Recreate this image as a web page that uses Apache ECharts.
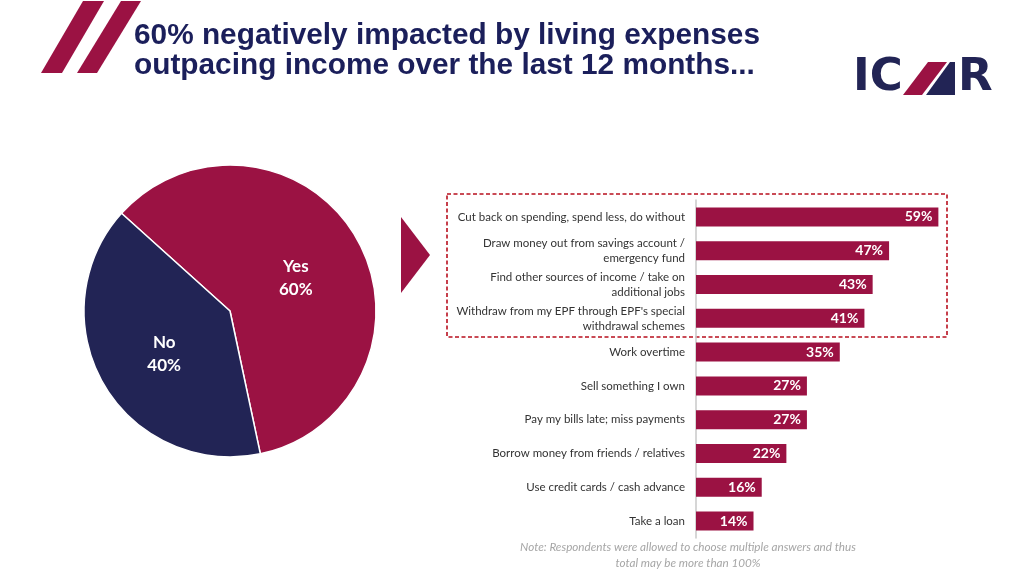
<!DOCTYPE html>
<html lang="en">
<head>
    <meta charset="UTF-8">
    <title>Living expenses</title>
    <script src="https://cdn.jsdelivr.net/npm/echarts@6/dist/echarts.min.js"></script>
    <style>
        html, body { margin: 0; padding: 0; background: #fff; }
        #main { width: 1024px; height: 576px; }
    </style>
</head>
<body>
<div id="main"></div>
<script type="text/javascript">
    // pie: negatively impacted?
    var pieNames = ['Yes', 'No'];
    var pieValues = [60, 40];

    // bars: actions taken (top to bottom)
    var actions = [
        'Cut back on spending, spend less, do without',
        'Draw money out from savings account /\nemergency fund',
        'Find other sources of income / take on\nadditional jobs',
        'Withdraw from my EPF through EPF\'s special\nwithdrawal schemes',
        'Work overtime',
        'Sell something I own',
        'Pay my bills late; miss payments',
        'Borrow money from friends / relatives',
        'Use credit cards / cash advance',
        'Take a loan'
    ];
    var actionValues = [59, 47, 43, 41, 35, 27, 27, 22, 16, 14];

    var crimson = '#9b1243';
    var navy = '#222455';
    var titleNavy = '#1b1f5b';

    var chart = echarts.init(document.getElementById('main'));

    var option = {
        backgroundColor: '#ffffff',
        animation: false,
        textStyle: { fontFamily: 'Lato' },
        grid: { left: 696, right: 24, top: 200, bottom: 38 },
        xAxis: {
            type: 'value',
            min: 0,
            max: 74,
            show: false
        },
        yAxis: {
            type: 'category',
            inverse: true,
            data: actions,
            axisTick: { show: false },
            axisLine: { show: true, lineStyle: { color: '#c8c8c8', width: 1.5 } },
            axisLabel: {
                margin: 11,
                color: '#333333',
                fontSize: 11.5,
                fontFamily: 'Lato',
                lineHeight: 15,
                align: 'right'
            }
        },
        series: [
            {
                type: 'pie',
                center: [230, 311],
                radius: 146,
                startAngle: 138,
                clockwise: true,
                avoidLabelOverlap: false,
                emphasis: { disabled: true },
                itemStyle: { borderColor: '#ffffff', borderWidth: 1.5 },
                label: {
                    position: 'inside',
                    offset: [0, 5],
                    color: '#ffffff',
                    fontFamily: 'Lato',
                    fontWeight: 'bold',
                    fontSize: 17,
                    lineHeight: 23,
                    formatter: function (p) {
                        return p.name + '\n' + p.value + '%';
                    }
                },
                labelLine: { show: false },
                data: pieNames.map(function (n, i) {
                    return { name: n, value: pieValues[i], itemStyle: { color: i === 0 ? crimson : navy } };
                })
            },
            {
                type: 'bar',
                data: actionValues,
                barWidth: 19,
                itemStyle: { color: crimson },
                emphasis: { disabled: true },
                label: {
                    show: true,
                    position: 'insideRight',
                    distance: 6,
                    color: '#ffffff',
                    fontFamily: 'Lato',
                    fontWeight: 'bold',
                    fontSize: 14,
                    formatter: '{c}%'
                }
            }
        ],
        graphic: [
            // title slashes
            { type: 'polygon', shape: { points: [[41, 73], [62, 73], [104, 1], [83, 1]] }, style: { fill: crimson } },
            { type: 'polygon', shape: { points: [[77, 73], [97, 73], [141, 1], [121, 1]] }, style: { fill: crimson } },
            {
                type: 'text', left: 134, top: 20.5,
                style: {
                    text: '60% negatively impacted by living expenses\noutpacing income over the last 12 months...',
                    fill: titleNavy,
                    font: 'bold 29.8px "Liberation Sans"',
                    lineHeight: 30
                }
            },
            // logo
            {
                type: 'text', left: 853, top: 56,
                style: { text: 'IC', fill: navy, font: 'bold 45px "DejaVu Sans"' }
            },
            { type: 'polygon', shape: { points: [[926, 95], [955, 95], [955, 62], [950, 62]] }, style: { fill: navy } },
            { type: 'polygon', shape: { points: [[903, 95], [922, 95], [947, 62], [928, 62]] }, style: { fill: crimson } },
            {
                type: 'text', left: 958, top: 56,
                style: { text: 'R', fill: navy, font: 'bold 45px "DejaVu Sans"' }
            },
            // arrow
            { type: 'polygon', shape: { points: [[401, 217], [430, 255], [401, 293]] }, style: { fill: crimson } },
            // dashed highlight box
            {
                type: 'rect',
                shape: { x: 447, y: 194, width: 500, height: 143 },
                style: { fill: 'none', stroke: '#b80f1e', lineWidth: 1.6, lineDash: [4, 2.5] }
            },
            // note
            {
                type: 'text', x: 688, y: 539,
                style: {
                    text: 'Note: Respondents were allowed to choose multiple answers and thus\ntotal may be more than 100%',
                    fill: '#a6a6a6',
                    font: 'italic 11.7px Lato',
                    lineHeight: 16,
                    align: 'center'
                }
            }
        ]
    };

    chart.setOption(option);
</script>
</body>
</html>
